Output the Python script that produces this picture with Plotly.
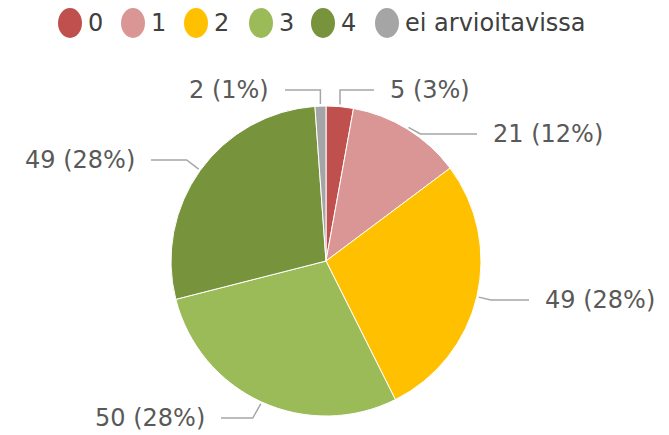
import math
import plotly.graph_objects as go

# ---- data ----
categories = ["0", "1", "2", "3", "4", "ei arvioitavissa"]
counts = [5, 21, 49, 50, 49, 2]
colors = ["#C0504D", "#D99694", "#FFC000", "#9BBB59", "#77933C", "#A5A5A5"]

# ---- layout constants (pixels) ----
W, H = 669, 435
ML, MR, MT, MB = 171, 188, 106, 19
PW = W - ML - MR
PH = H - MT - MB
CX = ML + PW / 2
CY = MT + PH / 2
R = min(PW, PH) / 2
FONT = "DejaVu Sans"
LABEL_COLOR = "#595959"
LEGEND_COLOR = "#404040"
LINE_COLOR = "#A6A6A6"

# label placement per slice: (x, y, anchor side, elbow dx)
label_place = [
    (388, 90, "left", 0),
    (491, 134, "left", 12),
    (543, 300, "left", 12),
    (207, 418, "right", -8),
    (137, 160, "right", -12),
    (271, 90, "right", 0),
]
legend_x = [70, 133, 196, 261, 323, 387]
legend_y = 23


def px(x):
    return (x - ML) / PW


def py(y):
    return (H - MB - y) / PH


fig = go.Figure()
fig.add_trace(go.Pie(
    labels=categories,
    values=counts,
    sort=False,
    direction="clockwise",
    rotation=0,
    marker=dict(colors=colors, line=dict(color="white", width=1)),
    textinfo="none",
    hoverinfo="label+value+percent",
    showlegend=False,
    domain=dict(x=[0, 1], y=[0, 1]),
))

total = sum(counts)
shapes = []
annotations = []
cum = 0
for i, v in enumerate(counts):
    mid = (cum + v / 2) / total * 2 * math.pi
    cum += v
    ex = CX + (R + 2) * math.sin(mid)
    ey = CY - (R + 2) * math.cos(mid)
    tx, ty, side, edx = label_place[i]
    elbow_x = ex + edx
    if side == "left":
        end_x = tx - 14
    else:
        end_x = tx + 14
    path = "M {} {} L {} {} L {} {}".format(
        px(ex), py(ey), px(elbow_x), py(ty), px(end_x), py(ty))
    shapes.append(dict(type="path", xref="paper", yref="paper", path=path,
                       line=dict(color=LINE_COLOR, width=1.5)))
    pct = round(v / total * 100)
    annotations.append(dict(
        x=px(tx), y=py(ty), xref="paper", yref="paper",
        text="{} ({}%)".format(v, pct), showarrow=False,
        xanchor=side, yanchor="middle",
        font=dict(family=FONT, size=24, color=LABEL_COLOR),
    ))

# manual legend
for i, cat in enumerate(categories):
    lx = legend_x[i]
    shapes.append(dict(type="circle", xref="paper", yref="paper",
                       x0=px(lx - 12), x1=px(lx + 12),
                       y0=py(legend_y + 15), y1=py(legend_y - 15),
                       fillcolor=colors[i], line=dict(width=0)))
    annotations.append(dict(
        x=px(lx + 16), y=py(legend_y), xref="paper", yref="paper",
        text=cat, showarrow=False, xanchor="left", yanchor="middle",
        font=dict(family=FONT, size=24, color=LEGEND_COLOR),
    ))

fig.update_layout(
    width=W, height=H, autosize=False,
    margin=dict(l=ML, r=MR, t=MT, b=MB),
    paper_bgcolor="white", plot_bgcolor="white",
    shapes=shapes, annotations=annotations,
    showlegend=False,
)

fig.write_html("out.html", config={"displayModeBar": False},
               post_script="document.body.style.margin='0px';")
